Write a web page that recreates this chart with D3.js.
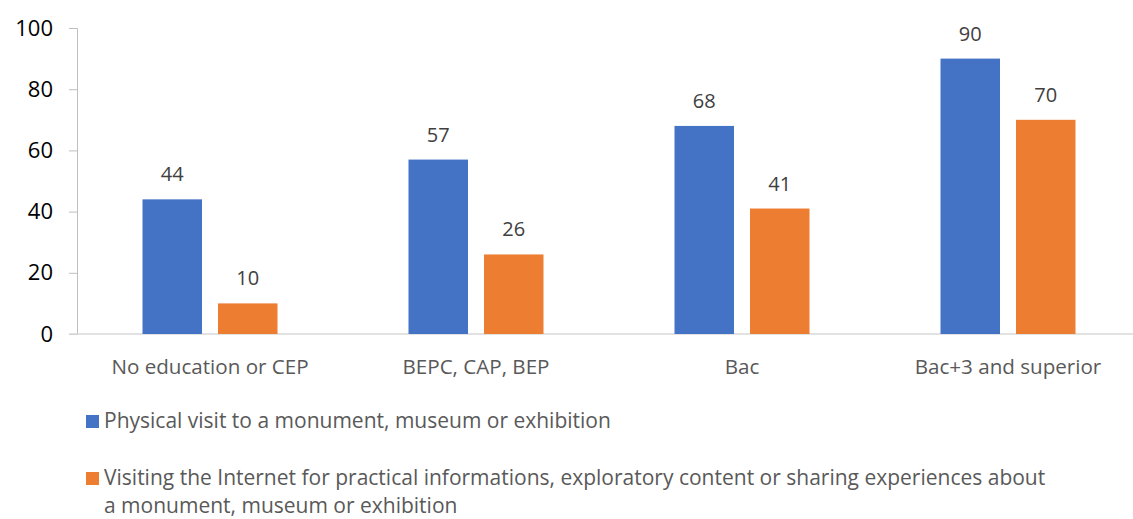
<!DOCTYPE html>
<html>
<head>
<meta charset="utf-8">
<script src="https://cdn.jsdelivr.net/npm/d3@7"></script>
<style>
  body { margin: 0; background: #fff; }
  text { font-family: "Open Sans", Lato, sans-serif; }
</style>
</head>
<body>
<div id="wrapper"></div>
<script>
// chart data
const categories = ["No education or CEP", "BEPC, CAP, BEP", "Bac", "Bac+3 and superior"];
const physical = [44, 57, 68, 90];
const internet = [10, 26, 41, 70];
const seriesNames = [
  "Physical visit to a monument, museum or exhibition",
  "Visiting the Internet for practical informations, exploratory content or sharing experiences about|a monument, museum or exhibition"
];
const yTicks = [0, 20, 40, 60, 80, 100];
const colors = ["#4472c4", "#ed7d31"];

var W = 1133, H = 519;
var svg = d3.select("#wrapper").append("svg")
    .attr("width", W)
    .attr("height", H);

var x = d3.scaleBand().domain(categories).range([77, 1141]);
var y = d3.scaleLinear().domain([0, 100]).range([334, 28]);

/* y axis: line + ticks to the left */
var yAxis = svg.append("g")
    .attr("transform", "translate(77,0)")
    .call(d3.axisLeft(y).tickValues(yTicks).tickSize(8).tickPadding(16));
yAxis.select(".domain").attr("stroke", "#bfbfbf");
yAxis.selectAll(".tick line").attr("stroke", "#bfbfbf");
yAxis.selectAll("text").attr("fill", "#000").style("font-size", "22px")
    .style("font-family", "'Open Sans', sans-serif");

/* baseline */
svg.append("line")
    .attr("x1", 69).attr("x2", W)
    .attr("y1", y(0)).attr("y2", y(0))
    .attr("stroke", "#d9d9d9").attr("stroke-width", 1.5);

var barW = 59.5, gap = 16;
var series = [physical, internet];

series.forEach(function(vals, s) {
  var off = s === 0 ? -gap / 2 - barW : gap / 2;
  var g = svg.append("g");
  g.selectAll("rect")
    .data(vals)
    .enter()
    .append("rect")
      .attr("x", function(d, i) { return x(categories[i]) + x.bandwidth() / 2 + off; })
      .attr("y", function(d) { return y(d); })
      .attr("width", barW)
      .attr("height", function(d) { return y(0) - y(d); })
      .attr("fill", colors[s]);
  g.selectAll("text")
    .data(vals)
    .enter()
    .append("text")
      .attr("x", function(d, i) { return x(categories[i]) + x.bandwidth() / 2 + off + barW / 2; })
      .attr("y", function(d) { return y(d) - 18; })
      .attr("text-anchor", "middle")
      .attr("fill", "#404040")
      .style("font-size", "20px")
      .text(function(d) { return d; });
});

/* category labels */
svg.selectAll(".cat")
  .data(categories)
  .enter()
  .append("text")
    .attr("class", "cat")
    .attr("x", function(d) { return x(d) + x.bandwidth() / 2; })
    .attr("y", 374)
    .attr("text-anchor", "middle")
    .attr("fill", "#595959")
    .style("font-size", "20.6px")
    .text(function(d) { return d; });

/* legend */
var legendY = [415, 472];
seriesNames.forEach(function(name, i) {
  svg.append("rect")
    .attr("x", 86).attr("y", legendY[i])
    .attr("width", 13).attr("height", 13)
    .attr("fill", colors[i]);
  name.split("|").forEach(function(line, j) {
    svg.append("text")
      .attr("x", 104)
      .attr("y", legendY[i] + 13 + j * 28)
      .attr("fill", "#595959")
      .style("font-size", "21px")
      .text(line);
  });
});
</script>
</body>
</html>
